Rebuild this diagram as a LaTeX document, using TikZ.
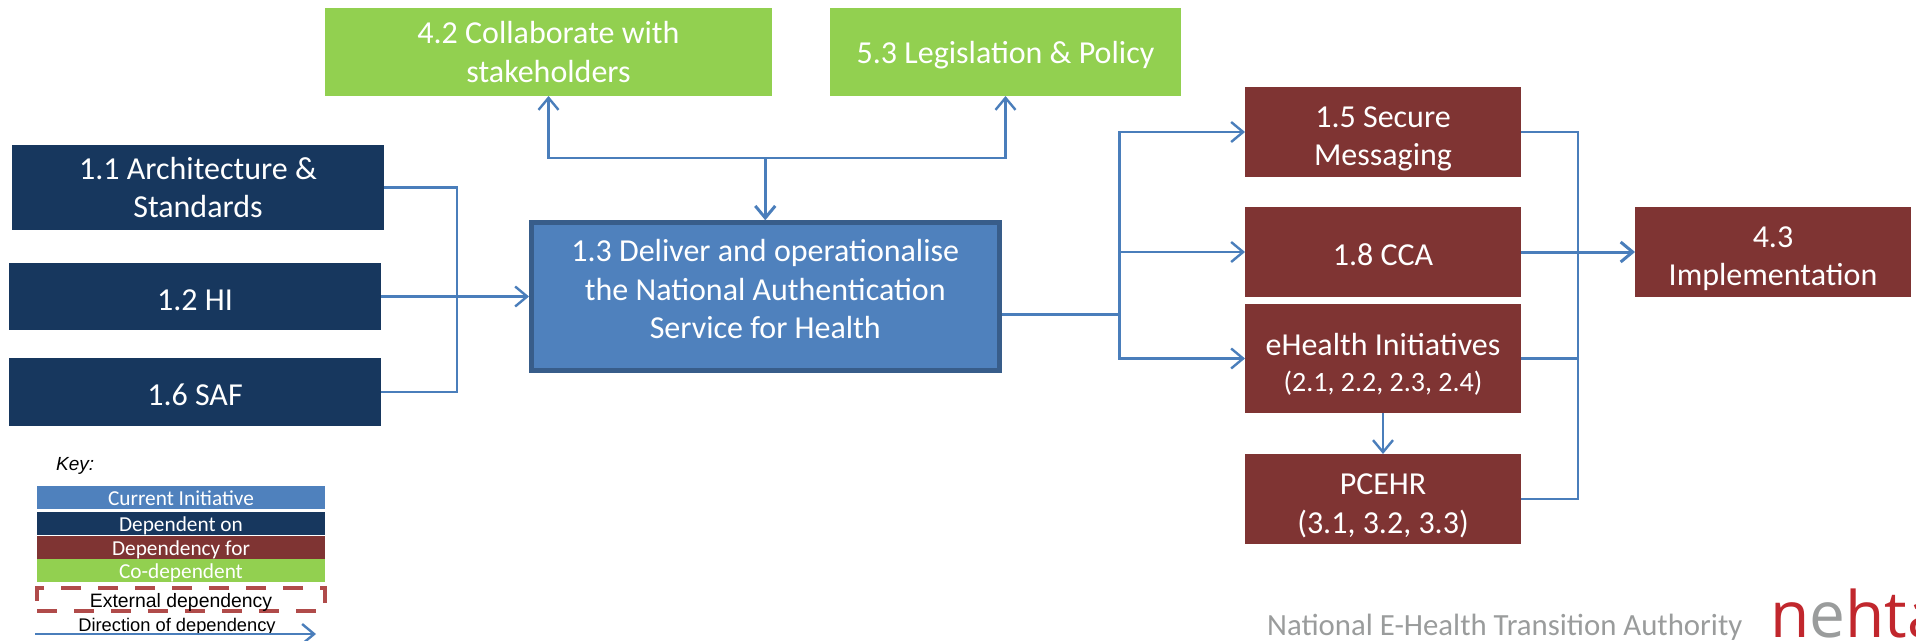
\documentclass[tikz,border=0pt]{standalone}
\usepackage{fontspec}
\setmainfont{Carlito}
\newfontfamily\keyfont{Liberation Sans}
\newfontfamily\logofont{Open Sans}
\usetikzlibrary{arrows.meta, positioning}
\definecolor{depOnBlue}{HTML}{17375E}
\definecolor{depForRed}{HTML}{7F3433}
\definecolor{coGreen}{HTML}{92D050}
\definecolor{currentBlue}{HTML}{4F81BD}
\definecolor{currentEdge}{HTML}{385D8A}
\definecolor{lineBlue}{HTML}{4A7EBB}
\definecolor{dashRed}{HTML}{B04B4A}
\definecolor{footGrey}{HTML}{9A9C9C}
\definecolor{logoRed}{HTML}{C1272D}
\newcommand{\lowLine}{\rule{0pt}{34pt}}
\tikzstyle{initBox} = [rectangle, outer sep=0pt, inner sep=0pt, align=center, text=white,
   execute at begin node={\rule{0pt}{28pt}}, font=\fontsize{32}{38.5}\selectfont]
\tikzstyle{depOn} = [initBox, fill=depOnBlue, minimum width=372pt]
\tikzstyle{depFor} = [initBox, fill=depForRed, minimum width=276pt, minimum height=90pt]
\tikzstyle{coDep} = [initBox, fill=coGreen, minimum height=88pt]
\tikzstyle{keyBox} = [rectangle, outer sep=0pt, inner sep=0pt, text=white, text height=15pt, text depth=0pt,
   minimum width=288pt, minimum height=23pt, font=\fontsize{21.3}{22}\selectfont]
\tikzstyle{keyText} = [inner sep=0pt, font=\keyfont\fontsize{18.3}{20}\selectfont]
\tikzstyle{depLine} = [draw=lineBlue, line width=2.4pt]
\tikzstyle{depArrow} = [depLine, -{Straight Barb[length=12pt,width=20pt]}]
\tikzstyle{mainArrow} = [depArrow, line width=3pt]

\begin{document}
\begin{tikzpicture}[x=1pt, y=1pt]
  \useasboundingbox (0,0) rectangle (1916,-640);
  % Dependent on
  \node[depOn, minimum height=85pt, anchor=north west] (arch) at (12,-145) {1.1 Architecture \&\\Standards};
  \node[depOn, minimum height=67pt, anchor=north west] (hi) at (9,-263) {1.2 HI};
  \node[depOn, minimum height=68pt, below = 28pt of hi] (saf) {1.6 SAF};
  % Current initiative
  \node[initBox, fill=currentBlue, draw=currentEdge, line width=4.5pt, outer sep=2.25pt,
    minimum width=468pt, minimum height=148pt, right = 148pt of hi] (auth)
    {1.3 Deliver and operationalise\\the National Authentication\\Service for Health\\[-24pt]};
  % Co-dependent
  \node[coDep, minimum width=447pt, anchor=north west] (collab) at (325,-8) {4.2 Collaborate with\\stakeholders};
  \node[coDep, minimum width=351pt, right = 58pt of collab] (legis) {5.3 Legislation \& Policy};
  % Dependency for
  \node[depFor, anchor=north west] (secure) at (1245,-87) {\lowLine 1.5 Secure\\Messaging};
  \node[depFor, below = 30pt of secure] (cca) {1.8 CCA};
  \node[depFor, minimum height=109pt, below = 7pt of cca] (ehealth)
    {\lowLine eHealth Initiatives\\[-3pt]{\fontsize{28}{32}\selectfont (2.1, 2.2, 2.3, 2.4)}};
  \node[depFor, below = 41pt of ehealth] (pcehr) {\lowLine PCEHR\\[1pt](3.1, 3.2, 3.3)};
  \node[depFor, right = 114pt of cca] (impl) {\lowLine 4.3\\Implementation};
  % Joints
  \coordinate[right = 76pt of hi] (joinIn);
  \coordinate[above = 62pt of auth] (joinTop);
  \coordinate (authOut) at ([yshift=-18pt]auth.east);
  \coordinate[right = 118pt of authOut] (splitOut);
  \coordinate[right = 57pt of cca] (joinOut);
  % Connectors
  \draw[depLine] (arch) -| (joinIn);
  \draw[depLine] (saf) -| (joinIn);
  \draw[depArrow] (hi) to (auth);
  \draw[mainArrow] (joinTop) to (auth);
  \draw[depArrow] (joinTop) -| (collab);
  \draw[depArrow] (joinTop) -| (legis);
  \draw[depLine, line width=3pt] (authOut) to (splitOut);
  \draw[depArrow] (splitOut) |- (secure);
  \draw[depArrow] (splitOut) |- (cca);
  \draw[depArrow] (splitOut) |- (ehealth);
  \draw[depArrow] (ehealth) to (pcehr);
  \draw[depLine] (secure) -| (joinOut);
  \draw[depLine] (ehealth) -| (joinOut);
  \draw[depLine] (pcehr) -| (joinOut);
  \draw[mainArrow] (cca) to (impl);
  % Key
  \node[anchor=west, inner sep=0pt, font=\keyfont\itshape\fontsize{19}{20}\selectfont] (keyTitle) at (56,-466) {Key:};
  \node[keyBox, fill=currentBlue, anchor=north west] (keyCurrent) at (37,-486) {Current Initiative};
  \node[keyBox, fill=depOnBlue, below = 3pt of keyCurrent] (keyOn) {Dependent on};
  \node[keyBox, fill=depForRed, below = 1pt of keyOn] (keyFor) {Dependency for};
  \node[keyBox, fill=coGreen, below = 0pt of keyFor] (keyCo) {Co-dependent};
  \node[keyBox, text=black, draw=dashRed, line width=4pt, dash pattern=on 20pt off 17pt,
    font=\keyfont\fontsize{19.4}{20}\selectfont, below = 6pt of keyCo] (keyExt) {External dependency};
  \node[keyText, below = 7pt of keyExt, xshift=-4pt] (keyDir) {Direction of dependency};
  \coordinate (keyStart) at (35,-634);
  \coordinate (keyEnd) at (316,-634);
  \draw[depArrow] (keyStart) to (keyEnd);
  % Footer
  \node[anchor=base west, inner sep=0pt, text=footGrey, font=\fontsize{30.8}{32}\selectfont] (footer) at (1267,-635) {National E-Health Transition Authority};
  \node[anchor=base west, inner sep=0pt, text=logoRed, font=\logofont\fontsize{64}{66}\selectfont] (logo) at (1770,-637) {n{\color{footGrey}e}hta};
\end{tikzpicture}
\end{document}
